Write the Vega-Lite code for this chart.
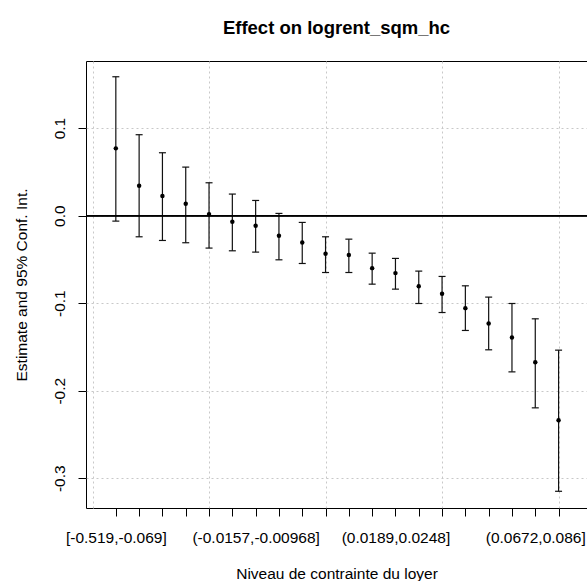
{
  "$schema": "https://vega.github.io/schema/vega-lite/v6.json",
  "autosize": "none",
  "width": 501,
  "height": 447,
  "padding": {"left": 86, "top": 61, "right": 0, "bottom": 73},
  "background": "white",
  "title": {
    "text": "Effect on logrent_sqm_hc",
    "font": "Liberation Sans",
    "fontSize": 18.5,
    "fontWeight": "bold",
    "color": "black",
    "anchor": "middle",
    "frame": "group",
    "baseline": "alphabetic",
    "offset": 9
  },
  "config": {
    "view": {"stroke": "black", "strokeWidth": 1},
    "axis": {
      "labelFont": "Liberation Sans",
      "labelFontSize": 15.5,
      "labelColor": "black",
      "titleFont": "Liberation Sans",
      "titleFontSize": 15.5,
      "titleFontWeight": "normal",
      "titleColor": "black",
      "tickColor": "black",
      "tickSize": 8,
      "domain": false,
      "gridColor": "#c8c8c8",
      "gridDash": [2, 3],
      "gridWidth": 1
    }
  },
  "data": {
    "values": [
      {"k": 1, "est": 0.0768, "lo": -0.0063, "hi": 0.1586},
      {"k": 2, "est": 0.034, "lo": -0.0242, "hi": 0.0924},
      {"k": 3, "est": 0.0223, "lo": -0.0284, "hi": 0.0718},
      {"k": 4, "est": 0.0135, "lo": -0.031, "hi": 0.0554},
      {"k": 5, "est": 0.0017, "lo": -0.0371, "hi": 0.0375},
      {"k": 6, "est": -0.0071, "lo": -0.0402, "hi": 0.0246},
      {"k": 7, "est": -0.0116, "lo": -0.0417, "hi": 0.0173},
      {"k": 8, "est": -0.023, "lo": -0.0505, "hi": 0.0025},
      {"k": 9, "est": -0.0307, "lo": -0.0547, "hi": -0.0078},
      {"k": 10, "est": -0.0436, "lo": -0.065, "hi": -0.0242},
      {"k": 11, "est": -0.0451, "lo": -0.065, "hi": -0.0269},
      {"k": 12, "est": -0.06, "lo": -0.0783, "hi": -0.0429},
      {"k": 13, "est": -0.0657, "lo": -0.084, "hi": -0.0489},
      {"k": 14, "est": -0.0806, "lo": -0.1004, "hi": -0.0634},
      {"k": 15, "est": -0.0893, "lo": -0.1107, "hi": -0.0695},
      {"k": 16, "est": -0.1057, "lo": -0.1312, "hi": -0.0802},
      {"k": 17, "est": -0.1232, "lo": -0.1533, "hi": -0.0931},
      {"k": 18, "est": -0.1392, "lo": -0.1785, "hi": -0.1004},
      {"k": 19, "est": -0.1674, "lo": -0.2196, "hi": -0.1179},
      {"k": 20, "est": -0.2337, "lo": -0.3149, "hi": -0.1537}
    ]
  },
  "encoding": {
    "x": {
      "field": "k",
      "type": "quantitative",
      "scale": {"domain": [-0.28, 21.22], "nice": false, "zero": false},
      "axis": {
        "title": "Niveau de contrainte du loyer",
        "values": [0, 1, 2, 3, 4, 5, 6, 7, 8, 9, 10, 11, 12, 13, 14, 15, 16, 17, 18, 19, 20],
        "labelExpr": "datum.value == 1 ? '[-0.519,-0.069]' : datum.value == 7 ? '(-0.0157,-0.00968]' : datum.value == 13 ? '(0.0189,0.0248]' : datum.value == 19 ? '(0.0672,0.086]' : ''",
        "labelOverlap": false,
        "labelFlush": false,
        "labelBaseline": "top",
        "labelPadding": 14,
        "titlePadding": 21,
        "grid": true,
        "gridOpacity": {"condition": {"test": "datum.value % 5 == 0", "value": 1}, "value": 0},
        "tickOpacity": {"condition": {"test": "datum.value == 0", "value": 0}, "value": 1}
      }
    },
    "y": {
      "field": "est",
      "type": "quantitative",
      "scale": {"domain": [-0.334, 0.1766], "nice": false, "zero": false},
      "axis": {
        "title": "Estimate and 95% Conf. Int.",
        "values": [-0.3, -0.2, -0.1, 0, 0.1],
        "labelExpr": "datum.value == 0 ? '0.0' : (datum.value < 0 ? '-' + format(-datum.value, '.1f') : format(datum.value, '.1f'))",
        "labelAngle": 270,
        "labelAlign": "center",
        "labelBaseline": "alphabetic",
        "labelPadding": 14,
        "titlePadding": 23,
        "grid": true
      }
    }
  },
  "layer": [
    {
      "mark": {"type": "rule", "color": "#111111", "strokeWidth": 1.2},
      "encoding": {
        "y": {"field": "lo", "type": "quantitative"},
        "y2": {"field": "hi"}
      }
    },
    {
      "mark": {"type": "rule", "color": "black", "strokeWidth": 1},
      "encoding": {
        "x": {"datum": -0.28, "type": "quantitative"},
        "x2": {"datum": 21.22},
        "y": {"datum": 0, "type": "quantitative"}
      }
    },
    {
      "mark": {"type": "tick", "orient": "horizontal", "size": 7, "thickness": 1.2, "color": "#111111", "opacity": 1},
      "encoding": {
        "y": {"field": "hi", "type": "quantitative"}
      }
    },
    {
      "mark": {"type": "tick", "orient": "horizontal", "size": 7, "thickness": 1.2, "color": "#111111", "opacity": 1},
      "encoding": {
        "y": {"field": "lo", "type": "quantitative"}
      }
    },
    {
      "mark": {"type": "point", "filled": true, "size": 20, "color": "black", "opacity": 1}
    }
  ]
}
